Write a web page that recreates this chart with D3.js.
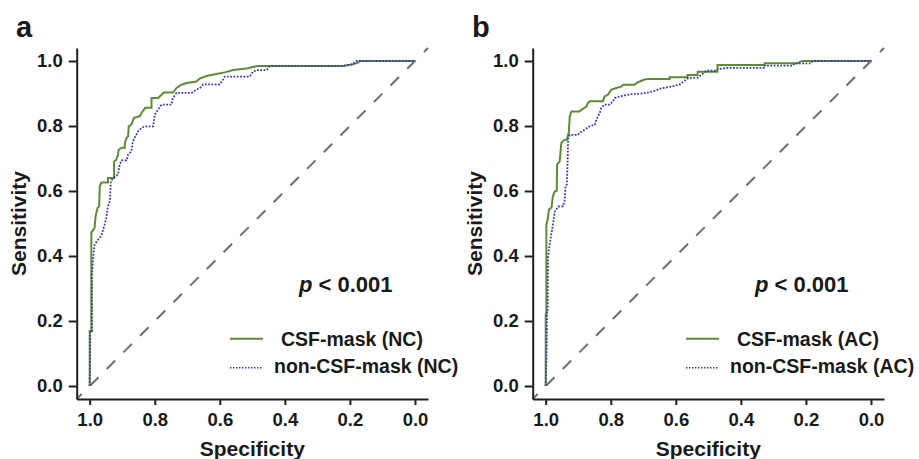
<!DOCTYPE html>
<html>
<head>
<meta charset="utf-8">
<script src="https://cdn.jsdelivr.net/npm/d3@7/dist/d3.min.js"></script>
<style>
  html, body { margin: 0; padding: 0; background: #fff; }
  svg { display: block; }
  text { font-family: "Liberation Sans", Arial, Helvetica, sans-serif; font-weight: bold; fill: #1a1a1a; }
</style>
</head>
<body>
<svg id="chart" width="919" height="459"></svg>
<script>
// ---------- DATA ----------
const panelLetters = ["a", "b"];
const tickValues = [0.0, 0.2, 0.4, 0.6, 0.8, 1.0];
const xLabel = "Specificity";
const yLabel = "Sensitivity";
const pText = ["p", " < 0.001"];
const legendA = ["CSF-mask (NC)", "non-CSF-mask (NC)"];
const legendB = ["CSF-mask (AC)", "non-CSF-mask (AC)"];

// ROC vertices as [specificity, sensitivity]
const csfNC = [
  [1.0,0],[1.0,0.169],[0.995,0.169],[0.995,0.472],[0.991,0.478],[0.985,0.487],[0.982,0.522],
  [0.976,0.548],[0.971,0.553],[0.969,0.615],[0.964,0.626],[0.944,0.626],[0.944,0.640],
  [0.925,0.640],[0.925,0.691],[0.918,0.697],[0.913,0.712],[0.911,0.727],[0.902,0.733],
  [0.892,0.733],[0.892,0.748],[0.887,0.763],[0.882,0.768],[0.880,0.799],[0.872,0.804],
  [0.864,0.825],[0.846,0.830],[0.841,0.840],[0.829,0.856],[0.810,0.856],[0.810,0.886],
  [0.790,0.886],[0.779,0.896],[0.772,0.903],[0.744,0.903],[0.733,0.917],[0.718,0.927],
  [0.702,0.932],[0.672,0.937],[0.662,0.946],[0.641,0.954],[0.615,0.959],[0.585,0.965],
  [0.559,0.972],[0.518,0.977],[0.482,0.985],[0.221,0.985],[0.191,0.990],[0.175,0.995],
  [0.169,1.0],[0.0,1.0]
];
const nonCsfNC = [
  [1.0,0],[0.998,0.169],[0.993,0.169],[0.993,0.343],[0.990,0.389],[0.985,0.435],[0.974,0.451],
  [0.964,0.463],[0.954,0.497],[0.949,0.518],[0.944,0.553],[0.938,0.569],[0.935,0.630],
  [0.928,0.640],[0.913,0.651],[0.908,0.681],[0.902,0.694],[0.887,0.694],[0.882,0.712],
  [0.872,0.722],[0.867,0.753],[0.862,0.764],[0.851,0.784],[0.841,0.794],[0.831,0.799],
  [0.805,0.799],[0.800,0.835],[0.790,0.850],[0.779,0.866],[0.749,0.866],[0.744,0.886],
  [0.733,0.902],[0.687,0.902],[0.672,0.912],[0.662,0.916],[0.651,0.928],[0.600,0.928],
  [0.590,0.943],[0.585,0.952],[0.508,0.952],[0.498,0.967],[0.487,0.972],[0.456,0.972],
  [0.446,0.985],[0.221,0.985],[0.191,0.990],[0.180,1.0],[0.0,1.0]
];
const csfAC = [
  [1.0,0],[1.0,0.220],[0.998,0.220],[0.998,0.497],[0.994,0.512],[0.990,0.543],[0.982,0.549],
  [0.978,0.584],[0.972,0.599],[0.966,0.601],[0.965,0.681],[0.957,0.691],[0.952,0.748],
  [0.942,0.758],[0.935,0.758],[0.931,0.774],[0.929,0.780],[0.926,0.830],[0.921,0.845],
  [0.896,0.845],[0.890,0.850],[0.875,0.860],[0.870,0.871],[0.865,0.876],[0.824,0.876],
  [0.819,0.891],[0.809,0.896],[0.798,0.912],[0.783,0.917],[0.767,0.922],[0.762,0.927],
  [0.727,0.927],[0.721,0.932],[0.711,0.937],[0.696,0.943],[0.680,0.945],[0.619,0.945],
  [0.619,0.950],[0.564,0.950],[0.564,0.957],[0.533,0.957],[0.533,0.967],[0.472,0.967],
  [0.472,0.988],[0.327,0.988],[0.327,0.993],[0.226,0.993],[0.217,0.998],[0.210,1.0],[0.0,1.0]
];
const nonCsfAC = [
  [1.0,0],[0.997,0.12],[0.996,0.230],[0.994,0.230],[0.993,0.395],[0.988,0.435],[0.982,0.472],
  [0.978,0.497],[0.972,0.537],[0.962,0.552],[0.947,0.553],[0.942,0.569],[0.939,0.615],
  [0.935,0.620],[0.933,0.681],[0.931,0.763],[0.926,0.773],[0.901,0.773],[0.896,0.779],
  [0.880,0.789],[0.865,0.799],[0.849,0.804],[0.844,0.820],[0.834,0.840],[0.829,0.856],
  [0.819,0.866],[0.803,0.866],[0.793,0.876],[0.788,0.886],[0.773,0.891],[0.757,0.894],
  [0.732,0.899],[0.711,0.899],[0.691,0.902],[0.665,0.908],[0.645,0.916],[0.614,0.921],
  [0.588,0.928],[0.573,0.939],[0.563,0.947],[0.532,0.949],[0.522,0.957],[0.506,0.970],
  [0.476,0.970],[0.471,0.975],[0.440,0.979],[0.327,0.979],[0.327,0.986],[0.240,0.986],
  [0.235,0.993],[0.184,0.993],[0.179,1.0],[0.0,1.0]
];

// ---------- DRAW ----------
const svg = d3.select("#chart");
svg.append("rect").attr("width", 919).attr("height", 459).attr("fill", "#fff");

const green = "#5e8c35";
const blue = "#3a3ab8";
const axisCol = "#1e1e1e";

function drawPanel(offsetX, letter, solidData, dottedData, legendTexts) {
  const g = svg.append("g").attr("transform", `translate(${offsetX},0)`);
  const x = d3.scaleLinear().domain([1.04, -0.04]).range([76.7, 428]);
  const y = d3.scaleLinear().domain([-0.04, 1.04]).range([399, 48]);

  // diagonal reference
  g.append("line")
    .attr("x1", x(1.04)).attr("y1", y(-0.04))
    .attr("x2", x(-0.04)).attr("y2", y(1.04))
    .attr("stroke", "#6e6e6e").attr("stroke-width", 2)
    .attr("stroke-dasharray", "12,11.6").attr("stroke-dashoffset", 4.8);

  const line = d3.line().x(d => x(d[0])).y(d => y(d[1]));
  g.append("path").datum(solidData).attr("d", line)
    .attr("fill", "none").attr("stroke", green).attr("stroke-width", 2);
  g.append("path").datum(dottedData).attr("d", line)
    .attr("fill", "none").attr("stroke", blue).attr("stroke-width", 1.8)
    .attr("stroke-dasharray", "1.8,1.5");

  // axes
  const xAxis = d3.axisBottom(x).tickValues(tickValues).tickFormat(d3.format(".1f"))
    .tickSizeInner(6).tickSizeOuter(0).tickPadding(8);
  const yAxis = d3.axisLeft(y).tickValues(tickValues).tickFormat(d3.format(".1f"))
    .tickSizeInner(8).tickSizeOuter(0).tickPadding(6);

  const gx = g.append("g").attr("transform", `translate(0,399)`).call(xAxis);
  const gy = g.append("g").attr("transform", `translate(76.7,0)`).call(yAxis);
  [gx, gy].forEach(a => {
    a.select(".domain").attr("stroke", axisCol).attr("stroke-width", 2);
    a.selectAll(".tick line").attr("stroke", axisCol).attr("stroke-width", 2);
    a.selectAll(".tick text").attr("fill", "#1a1a1a")
      .style("font-family", '"Liberation Sans", Arial, sans-serif')
      .style("font-weight", "bold").style("font-size", "18.5px");
  });

  // axis titles
  g.append("text").attr("x", 252.3).attr("y", 456).attr("text-anchor", "middle")
    .style("font-size", "21px").text(xLabel);
  g.append("text").attr("transform", `translate(26,223.5) rotate(-90)`)
    .attr("text-anchor", "middle").style("font-size", "21px").text(yLabel);

  // panel letter
  g.append("text").attr("x", 16).attr("y", 36.5).style("font-size", "29px").text(letter);

  // p-value
  const pt = g.append("text").attr("x", 299).attr("y", 292).style("font-size", "22px");
  pt.append("tspan").style("font-style", "italic").text(pText[0]);
  pt.append("tspan").attr("xml:space", "preserve").text(pText[1]);

  // legend
  g.append("line").attr("x1", 230).attr("x2", 263).attr("y1", 338.7).attr("y2", 338.7)
    .attr("stroke", green).attr("stroke-width", 2);
  g.append("line").attr("x1", 230).attr("x2", 263).attr("y1", 367.7).attr("y2", 367.7)
    .attr("stroke", blue).attr("stroke-width", 1.6).attr("stroke-dasharray", "1.5,1.5");
  g.append("text").attr("x", 281).attr("y", 346).style("font-size", "19.5px").text(legendTexts[0]);
  g.append("text").attr("x", 274).attr("y", 373.3).style("font-size", "19.5px").text(legendTexts[1]);
}

drawPanel(0, panelLetters[0], csfNC, nonCsfNC, legendA);
drawPanel(456, panelLetters[1], csfAC, nonCsfAC, legendB);
</script>
</body>
</html>
